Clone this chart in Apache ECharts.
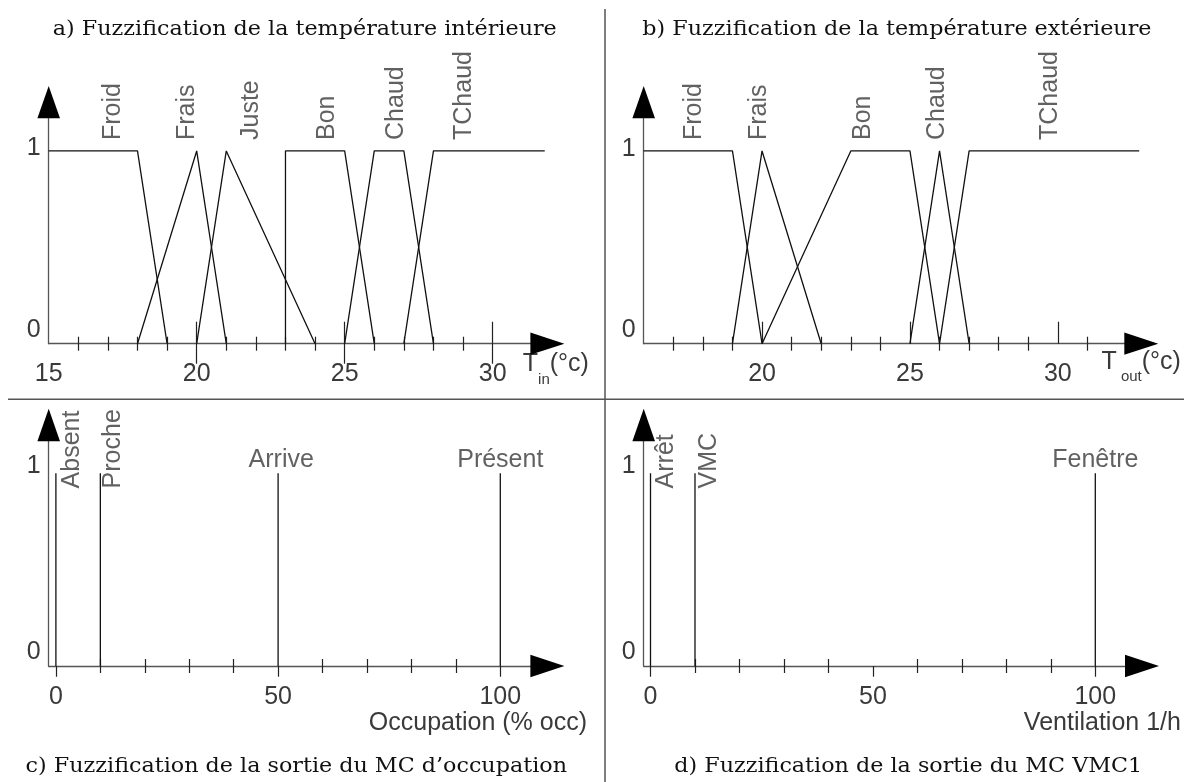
<!DOCTYPE html>
<html><head><meta charset="utf-8">
<script src="https://cdn.jsdelivr.net/npm/echarts@6/dist/echarts.min.js"></script>
<style>html,body{margin:0;padding:0;background:#fff}#c{width:1184px;height:782px}</style>
</head><body><div id="c"></div>
<script>
// ---------- DATA ----------
// a) indoor temperature membership functions [T, mu]
const tinNames   = ['Froid','Frais','Juste','Bon','Chaud','TChaud'];
const tinFroid   = [[15,1],[18,1],[19,0]];
const tinFrais   = [[18,0],[20,1],[21,0]];
const tinJuste   = [[20,0],[21,1],[24,0]];
const tinBon     = [[23,0],[23,1],[25,1],[26,0]];
const tinChaud   = [[25,0],[26,1],[27,1],[28,0]];
const tinTChaud  = [[27,0],[28,1],[31.76,1]];
const tinLabelX  = [17.18, 19.67, 21.83, 24.39, 26.74, 29.04];
const tinLabelY  = 1.057;
const tinMinorTicks = [16,17,18,19,21,22,23,24,26,27,28,29];
const tinMajorTicks = [20,25,30];
const tinTickLabels = [15,20,25,30];

// b) outdoor temperature membership functions
const toutNames  = ['Froid','Frais','Bon','Chaud','TChaud'];
const toutFroid  = [[16,1],[19,1],[20,0]];
const toutFrais  = [[19,0],[20,1],[22,0]];
const toutBon    = [[20,0],[23,1],[25,1],[26,0]];
const toutChaud  = [[25,0],[26,1],[27,0]];
const toutTChaud = [[26,0],[27,1],[32.75,1]];
const toutLabelX = [17.7, 19.91, 23.42, 25.91, 29.74];
const toutLabelY = 1.057;
const toutMinorTicks = [17,18,19,21,22,23,24,26,27,28,29,31];
const toutMajorTicks = [20,25,30];
const toutTickLabels = [20,25,30];

// c) occupancy output singletons
const occNames   = ['Absent','Proche','Arrive','Présent'];
const occValues  = [0,10,50,100];
const occLabelX  = [3.56, 12.92, 50.7, 100];
const occRotated = [true,true,false,false];
const occMinorTicks = [10,20,30,40,60,70,80,90];
const occMajorTicks = [0,50,100];
const occTickLabels = [0,50,100];

// d) ventilation output singletons
const ventNames   = ['Arrêt','VMC','Fenêtre'];
const ventValues  = [0,10,100];
const ventLabelX  = [3.4, 13.15, 100];
const ventRotated = [true,true,false];
const ventMinorTicks = [10,20,30,40,60,70,80,90];
const ventMajorTicks = [0,50,100];
const ventTickLabels = [0,50,100];

const singletonRotY = 0.922, singletonHorY = 1.069;

// ---------- STYLE ----------
const SANS = '"Liberation Sans", Arial, sans-serif';
const TXT = '#3a3a3a', AXIS = '#555', TICK = '#222', LINE = '#111', FS = 25;

const grids = [], xAxes = [], yAxes = [], series = [];

function addPanel(p) {
  const gi = grids.length;
  grids.push({left:p.left, top:p.top, width:p.width, height:p.height});
  const xi = xAxes.length, yi = yAxes.length;
  const xBase = () => ({type:'value', gridIndex:gi, min:p.xMin, max:p.xMax, position:'bottom', offset:0,
    splitLine:{show:false}, axisLabel:{show:false}, axisTick:{show:false}, axisLine:{show:false,onZero:false}, silent:true});
  const xm = xBase();
  xm.axisLine = {show:true, onZero:false, lineStyle:{color:AXIS, width:1.3}};
  xm.axisLabel = {show:true, customValues:p.tickLabels, margin:p.labelMargin, fontSize:FS, fontFamily:SANS, color:TXT, lineHeight:26};
  xm.name = p.name; xm.nameLocation = 'end'; xm.nameGap = p.nameGap; xm.nameTextStyle = p.nameStyle;
  xm.nameMoveOverlap = false;
  xAxes.push(xm);
  const xa = xBase();
  xa.axisLine = {show:true, onZero:false, symbol:['none','triangle'], symbolSize:p.xArrow, lineStyle:{color:'#000', width:0}};
  xAxes.push(xa);
  for (const inside of [true,false]) {
    const t = xBase();
    t.axisTick = {show:true, inside:inside, length:7, customValues:p.minorTicks, lineStyle:{color:TICK, width:1.2}};
    xAxes.push(t);
  }
  if (p.majorIn) {
    const t = xBase();
    t.axisTick = {show:true, inside:true, length:p.majorIn, customValues:p.majorTicks, lineStyle:{color:TICK, width:1.2}};
    xAxes.push(t);
  }
  if (p.majorOut) {
    const t = xBase();
    t.axisTick = {show:true, inside:false, length:p.majorOut, customValues:p.majorTicks, lineStyle:{color:TICK, width:1.2}};
    xAxes.push(t);
  }
  const yBase = () => ({type:'value', gridIndex:gi, min:0, max:p.yMax, position:'left', offset:0,
    splitLine:{show:false}, axisTick:{show:false}, axisLabel:{show:false}, axisLine:{show:false,onZero:false}, silent:true});
  const ym = yBase();
  ym.axisLine = {show:true, onZero:false, lineStyle:{color:AXIS, width:1.3}};
  ym.axisLabel = {show:true, customValues:[0,1], margin:8,
    formatter: v => (v === 0 ? '{z|0}' : '{o|1}'),
    rich:{
      z:{fontSize:FS, fontFamily:SANS, color:TXT, padding:[0,0,28,0]},
      o:{fontSize:FS, fontFamily:SANS, color:TXT, padding:[0,0,p.oneShift*2,0]}
    }};
  yAxes.push(ym);
  const ya = yBase();
  ya.axisLine = {show:true, onZero:false, symbol:['none','triangle'], symbolSize:p.yArrow, lineStyle:{color:'#000', width:0}};
  yAxes.push(ya);

  p.lines.forEach((d, i) => series.push({type:'line', name:p.lineNames[i], xAxisIndex:xi, yAxisIndex:yi, data:d,
    symbol:'none', lineStyle:{color:LINE, width:1.3}, silent:true, z:3}));

  const rot = [], hor = [];
  p.labelNames.forEach((n, i) => {
    if (p.labelRot[i]) rot.push([p.labelX[i], p.labelYRot, n]);
    else hor.push([p.labelX[i], p.labelYHor, n]);
  });
  const lblBase = {fontSize:FS, fontFamily:SANS, color:TXT, formatter: q => q.value[2]};
  if (rot.length) series.push({type:'scatter', xAxisIndex:xi, yAxisIndex:yi, data:rot, symbolSize:1,
    itemStyle:{color:'rgba(0,0,0,0)'}, silent:true,
    label:Object.assign({show:true, position:'inside', rotate:90, align:'left', verticalAlign:'middle'}, lblBase)});
  if (hor.length) series.push({type:'scatter', xAxisIndex:xi, yAxisIndex:yi, data:hor, symbolSize:1,
    itemStyle:{color:'rgba(0,0,0,0)'}, silent:true,
    label:Object.assign({show:true, position:'inside', align:'center', verticalAlign:'middle'}, lblBase)});
}

const tempName = sub => ({align:'right', verticalAlign:'top', padding:[sub.p,0,0,0],
  rich:{
    t:{fontSize:FS, fontFamily:SANS, color:TXT, lineHeight:28, verticalAlign:'top'},
    s:{fontSize:15, fontFamily:SANS, color:TXT, lineHeight:15, padding:[sub.q,0,0,0], verticalAlign:'top'}
  }});
const plainName = pad => ({align:'right', verticalAlign:'top', padding:[pad,0,0,0], fontSize:FS, fontFamily:SANS, color:TXT, lineHeight:28});

addPanel({left:48.7, top:102.2, width:498.7, height:241.5, xMin:15, xMax:31.85, yMax:1.253,
  tickLabels:tinTickLabels, minorTicks:tinMinorTicks, majorTicks:tinMajorTicks, majorIn:22, majorOut:20,
  labelMargin:17, name:'{t|T}{s|in}{t|(°c)}', nameGap:41.5, nameStyle:tempName({p:8, q:20.8}),
  xArrow:[22.3,34], yArrow:[22.6,32.3], oneShift:3,
  lines:[tinFroid,tinFrais,tinJuste,tinBon,tinChaud,tinTChaud], lineNames:tinNames,
  labelNames:tinNames, labelX:tinLabelX, labelRot:tinNames.map(()=>true), labelYRot:tinLabelY});

addPanel({left:643.7, top:102.2, width:497.6, height:241.5, xMin:16, xMax:32.82, yMax:1.253,
  tickLabels:toutTickLabels, minorTicks:toutMinorTicks, majorTicks:toutMajorTicks, majorIn:22, majorOut:0,
  labelMargin:17, name:'{t|T}{s| out}{t|(°c)}', nameGap:39.6, nameStyle:tempName({p:5.6, q:19.9}),
  xArrow:[22.3,34], yArrow:[22.6,32.3], oneShift:2,
  lines:[toutFroid,toutFrais,toutBon,toutChaud,toutTChaud], lineNames:toutNames,
  labelNames:toutNames, labelX:toutLabelX, labelRot:toutNames.map(()=>true), labelYRot:toutLabelY});

addPanel({left:48.7, top:425, width:498.7, height:241, xMin:-1.62, xMax:110.6, yMax:1.251,
  tickLabels:occTickLabels, minorTicks:occMinorTicks, majorTicks:occMajorTicks, majorIn:0, majorOut:10.7,
  labelMargin:18.3, name:'Occupation (% occ)', nameGap:39.6, nameStyle:plainName(43.3),
  xArrow:[22.3,34], yArrow:[22.6,32.3], oneShift:7,
  lines:occValues.map(v => [[v,0],[v,1]]), lineNames:occNames,
  labelNames:occNames, labelX:occLabelX, labelRot:occRotated, labelYRot:singletonRotY, labelYHor:singletonHorY});

addPanel({left:643.7, top:425, width:498.3, height:241, xMin:-1.53, xMax:110.5, yMax:1.251,
  tickLabels:ventTickLabels, minorTicks:ventMinorTicks, majorTicks:ventMajorTicks, majorIn:0, majorOut:10.7,
  labelMargin:18.3, name:'Ventilation 1/h', nameGap:38.9, nameStyle:plainName(43.3),
  xArrow:[22.3,34], yArrow:[22.6,32.3], oneShift:7,
  lines:ventValues.map(v => [[v,0],[v,1]]), lineNames:ventNames,
  labelNames:ventNames, labelX:ventLabelX, labelRot:ventRotated, labelYRot:singletonRotY, labelYHor:singletonHorY});

const titleText = (t, x, y) => ({type:'text', x:x, y:y, scaleX:1.13, silent:true,
  style:{text:t, font:'19.7px "DejaVu Serif", serif', fill:'#111', align:'center', verticalAlign:'middle',
         textAlign:'center', textVerticalAlign:'middle'}});

const chart = echarts.init(document.getElementById('c'), null, {renderer:'canvas'});
chart.setOption({
  animation:false,
  backgroundColor:'#fff',
  grid:grids, xAxis:xAxes, yAxis:yAxes, series:series,
  graphic:[
    {type:'line', silent:true, shape:{x1:605, y1:9, x2:605, y2:782}, style:{stroke:'#555', lineWidth:1.5}},
    {type:'line', silent:true, shape:{x1:8, y1:399.3, x2:1184, y2:399.3}, style:{stroke:'#555', lineWidth:1.5}},
    titleText('a) Fuzzification de la température intérieure', 304.8, 30),
    titleText('b) Fuzzification de la température extérieure', 896.9, 30),
    titleText('c) Fuzzification de la sortie du MC d’occupation', 296.3, 767),
    titleText('d) Fuzzification de la sortie du MC VMC1', 908.2, 767)
  ]
});
</script></body></html>
